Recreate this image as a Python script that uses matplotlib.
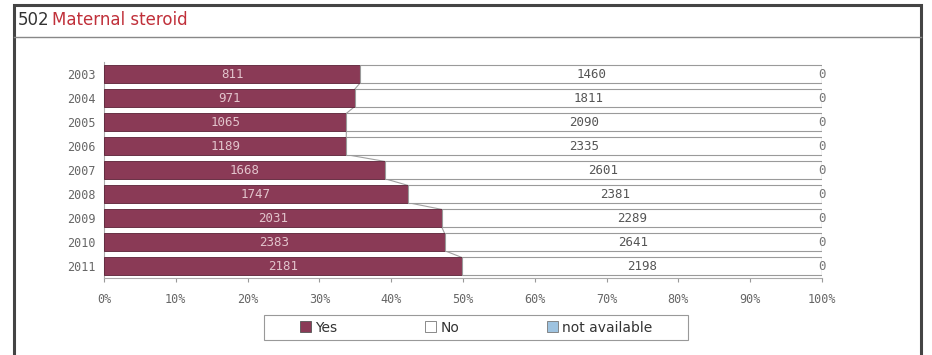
import matplotlib.pyplot as plt
import numpy as np
from matplotlib.patches import Rectangle, Patch
from matplotlib.lines import Line2D

years = ['2003', '2004', '2005', '2006', '2007', '2008', '2009', '2010', '2011']
yes = [811, 971, 1065, 1189, 1668, 1747, 2031, 2383, 2181]
no = [1460, 1811, 2090, 2335, 2601, 2381, 2289, 2641, 2198]
na = [0, 0, 0, 0, 0, 0, 0, 0, 0]

yesColor = '#8a3a56'
noColor = '#ffffff'
naColor = '#9ec3e0'
edgeGray = '#9a9a9a'

yes = np.array(yes, dtype=float)
no = np.array(no, dtype=float)
na = np.array(na, dtype=float)
total = yes + no + na
pYes = yes / total * 100
pNo = no / total * 100
pNa = na / total * 100

fig = plt.figure(figsize=(9.32, 3.55), dpi=100)

# outer frame and title band
fig.patches.append(Rectangle((14/932, -0.05), (921-14)/932, 1 - 5/355 + 0.05,
                             transform=fig.transFigure, fill=False,
                             edgecolor='#444444', linewidth=2.2))
fig.lines.append(Line2D([14/932, 921/932], [1-37/355, 1-37/355],
                        transform=fig.transFigure, color='#888888', linewidth=1))
fig.text(18/932, 1-20/355, '502', color='#333333', fontsize=12,
         va='center', ha='left', family='DejaVu Sans')
fig.text(52/932, 1-20/355, 'Maternal steroid', color='#c0303a', fontsize=12,
         va='center', ha='left', family='DejaVu Sans')

ax = fig.add_axes([104/932, 1-278/355, (822-104)/932, (278-62)/355])
ind = np.arange(len(years))
h = 0.72

ax.barh(ind, pYes, height=h, color=yesColor, edgecolor='#5a2035', linewidth=0.6, zorder=3)
ax.barh(ind, pNo, left=pYes, height=h, color=noColor, edgecolor=edgeGray, linewidth=0.8, zorder=3)
ax.barh(ind, pNa, left=pYes + pNo, height=h, color=naColor, edgecolor=edgeGray, linewidth=0.8, zorder=3)

# series lines between bars
for i in range(len(years) - 1):
    ax.plot([pYes[i], pYes[i+1]], [i + h/2, i + 1 - h/2], color='#a0a0a0', linewidth=0.8, zorder=2)

for i in range(len(years)):
    ax.text(pYes[i] / 2, i, str(int(yes[i])), color='#e2c4cc', fontsize=9,
            ha='center', va='center', family='DejaVu Sans Mono', zorder=4)
    ax.text(pYes[i] + pNo[i] / 2, i, str(int(no[i])), color='#555555', fontsize=9,
            ha='center', va='center', family='DejaVu Sans Mono', zorder=4)
    ax.text(pYes[i] + pNo[i] + pNa[i] / 2, i, str(int(na[i])), color='#777777', fontsize=9,
            ha='center', va='center', family='DejaVu Sans Mono', zorder=4)

ax.set_xlim(0, 100)
ax.set_ylim(len(years) - 0.5, -0.5)
ax.set_yticks(ind)
ax.set_yticklabels(years, fontsize=8.5, color='#666666', family='DejaVu Sans Mono')
ax.set_xticks(np.arange(0, 101, 10))
ax.set_xticklabels([str(v) + '%' for v in range(0, 101, 10)], fontsize=8.5,
                   color='#666666', family='DejaVu Sans Mono')
ax.tick_params(axis='y', length=0, pad=6)
ax.tick_params(axis='x', length=3, color='#999999', pad=8)
for s in ['top', 'right']:
    ax.spines[s].set_visible(False)
ax.spines['left'].set_color('#aaaaaa')
ax.spines['bottom'].set_color('#aaaaaa')

# legend box
fig.patches.append(Rectangle((264/932, 1-340/355), (688-264)/932, 25/355,
                             transform=fig.transFigure, fill=False,
                             edgecolor='#999999', linewidth=0.8))
handles = [Patch(facecolor=yesColor, edgecolor='#555555', linewidth=0.6),
           Patch(facecolor=noColor, edgecolor='#777777', linewidth=0.6),
           Patch(facecolor=naColor, edgecolor='#777777', linewidth=0.6)]
leg = fig.legend(handles, ['Yes', 'No', 'not available'], ncol=3,
                 loc='center', bbox_to_anchor=(476/932, 1-327.5/355),
                 fontsize=10, frameon=False,
                 handlelength=0.8, handleheight=0.8, handletextpad=0.3,
                 columnspacing=6.3, borderpad=0.3, borderaxespad=0)
for t in leg.get_texts():
    t.set_color('#333333')

fig.savefig('out.png', dpi=100)
